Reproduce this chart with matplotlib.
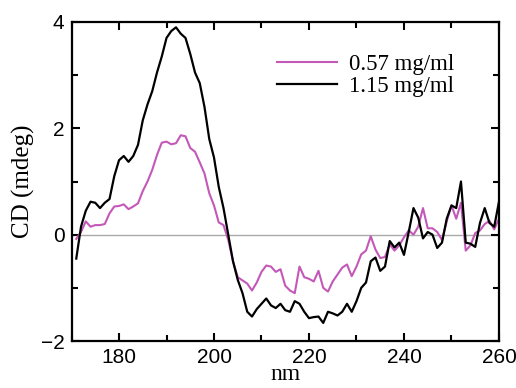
import matplotlib
matplotlib.use("Agg")
import matplotlib.pyplot as plt
from matplotlib.ticker import MultipleLocator
import numpy as np

wavelength = list(range(171, 261))

cd_057 = [-0.08, 0.05, 0.25, 0.15, 0.18, 0.18, 0.2, 0.4, 0.53, 0.54,
          0.57, 0.48, 0.53, 0.59, 0.82, 1.0, 1.22, 1.5, 1.73, 1.75,
          1.7, 1.72, 1.87, 1.85, 1.63, 1.56, 1.36, 1.15, 0.78, 0.55,
          0.23, 0.18, -0.1, -0.5, -0.8, -0.86, -0.92, -1.05, -0.9, -0.7,
          -0.58, -0.6, -0.7, -0.65, -0.96, -1.05, -1.1, -0.6, -0.8, -0.83,
          -0.88, -0.68, -1.0, -1.07, -0.88, -0.75, -0.62, -0.56, -0.78, -0.6,
          -0.37, -0.3, -0.03, -0.28, -0.44, -0.42, -0.18, -0.3, -0.2, -0.05,
          0.08, 0.0, 0.15, 0.5, 0.12, 0.12, 0.05, -0.1, 0.25, 0.55,
          0.3, 0.6, -0.3, -0.2, 0.03, 0.08, 0.2, 0.26, 0.1, 0.3]

cd_115 = [-0.45, 0.15, 0.45, 0.62, 0.6, 0.5, 0.6, 0.67, 1.1, 1.4,
          1.48, 1.37, 1.48, 1.69, 2.15, 2.45, 2.7, 3.05, 3.35, 3.7,
          3.83, 3.9, 3.78, 3.7, 3.4, 3.05, 2.85, 2.4, 1.8, 1.45,
          0.9, 0.5, 0.0, -0.5, -0.85, -1.1, -1.45, -1.54, -1.4, -1.3,
          -1.2, -1.33, -1.38, -1.3, -1.42, -1.45, -1.25, -1.3, -1.45, -1.57,
          -1.55, -1.54, -1.66, -1.45, -1.48, -1.52, -1.45, -1.3, -1.45, -1.25,
          -1.0, -0.9, -0.5, -0.43, -0.68, -0.6, -0.12, -0.24, -0.15, -0.38,
          0.05, 0.5, 0.32, -0.07, 0.05, 0.0, -0.25, -0.15, 0.3, 0.55,
          0.5, 1.0, -0.15, -0.17, -0.23, 0.22, 0.5, 0.22, 0.15, 0.62]

labels = ["0.57 mg/ml", "1.15 mg/ml"]
xticks = [180, 200, 220, 240, 260]
yticks = [-2, 0, 2, 4]

fig = plt.figure(figsize=(5.16, 3.88), dpi=100)
ax = fig.add_axes([0.1386, 0.1211, 0.8284, 0.8222])

ax.axhline(0, color="#aaaaaa", lw=1.0, zorder=1)
ax.plot(wavelength, cd_057, color="#c458b8", lw=1.5, label=labels[0], zorder=2)
ax.plot(wavelength, cd_115, color="black", lw=1.6, label=labels[1], zorder=3)

ax.set_xlim(170, 260)
ax.set_ylim(-2, 4)
ax.set_xticks(xticks)
ax.set_yticks(yticks)
ax.xaxis.set_minor_locator(MultipleLocator(10))
ax.yaxis.set_minor_locator(MultipleLocator(1))
ax.tick_params(which="both", direction="in", top=True, right=True, width=1.5)
ax.tick_params(which="major", length=6, labelsize=15, pad=5)
ax.tick_params(which="minor", length=4)
for lab in ax.get_xticklabels() + ax.get_yticklabels():
    lab.set_family("Liberation Sans")
for s in ax.spines.values():
    s.set_linewidth(1.6)

ax.set_xlabel("nm", family="Liberation Serif", fontsize=17, labelpad=-2)
ax.set_ylabel("CD (mdeg)", family="Liberation Serif", fontsize=18, labelpad=4)

leg = ax.legend(loc="upper left", bbox_to_anchor=(0.455, 0.935), frameon=False,
                borderpad=0, handlelength=2.6, handletextpad=0.5, labelspacing=0.05,
                prop={"family": "Liberation Serif", "size": 16.5})

fig.savefig("out.png", dpi=100)
